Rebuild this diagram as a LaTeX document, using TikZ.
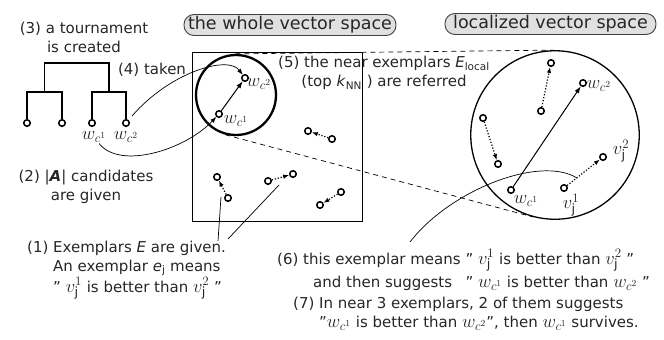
\documentclass[tikz,border=0pt]{standalone}
\usepackage{fix-cm}
\usepackage{fontspec}
\setmainfont{DejaVu Sans}
\usetikzlibrary{arrows.meta}
\newcommand{\qmark}{\char"22\relax}
\newcommand{\mth}[1]{{\fontsize{18.5}{19}\selectfont$#1$}}
\begin{document}
\begin{tikzpicture}[x=1pt,y=-1pt,
  every node/.style={font=\fontsize{15}{19}\selectfont, text=black!85},
  pt/.style={circle,draw,line width=1.5pt,fill=white,inner sep=0pt,minimum size=6.5pt},
  lbl/.style={inner sep=0pt},
  pill/.style={draw=black!75, line width=0.9pt, fill=black!12, rounded corners=10pt,
    minimum height=21pt, inner sep=0pt, font=\fontsize{17.5}{20}\selectfont},
  tree/.style={line width=1.3pt},
  arr/.style={-{Latex[length=7pt,width=5pt]}},
  arrtwo/.style={-{Latex[length=6pt,width=4.5pt]}},
  dotarr/.style={line width=1.2pt, dash pattern=on 1.2pt off 1.8pt, -{Latex[length=6pt,width=4.5pt]}},
  thinline/.style={line width=0.7pt},
  tangentline/.style={line width=0.7pt, dash pattern=on 5pt off 4pt}
]
\useasboundingbox (0,0) rectangle (664,340);

% titles
\node[pill, minimum width=212pt] (pw) at (290,25) {the whole vector space};
\node[pill, minimum width=211pt] (pl) at (550.5,24) {localized vector space};

% big frames
\node[draw, line width=0.9pt, minimum width=170pt, minimum height=169pt, inner sep=0pt] (box) at (277,136.5) {};
\node[circle, draw, line width=2.3pt, minimum size=80pt, inner sep=0pt] (sc) at (236,95) {};
\node[circle, draw, line width=1.3pt, minimum size=168.5pt, inner sep=0pt] (bc) at (555,135) {};
\draw[tangentline] (sc.91) -- (bc.91);
\draw[tangentline] (sc.-105) -- (bc.-105);

% tree
\node[pt] (L1) at (27,123) {};
\node[pt] (L2) at (62,123) {};
\node[pt] (L3) at (92,123) {};
\node[pt] (L4) at (126,123) {};
\coordinate (A) at (44.5,92);
\coordinate (B) at (109,92);
\coordinate (R) at (76.75,63);
\draw[tree] (L1.north) |- (A) -| (L2.north);
\draw[tree] (L3.north) |- (B) -| (L4.north);
\draw[tree] (A) |- (R) -| (B);
\node[lbl] (lw1) at (94,137) {\mth{w_{c^1}}};
\node[lbl] (lw2) at (126,137) {\mth{w_{c^2}}};

% texts left
\node[align=center] (t3) at (84,37) {(3) a tournament\\is created};
\node (t4) at (152,70) {(4) taken};
\node[align=center] (t2) at (86,187) {(2) |\textbf{\textit{A}}| candidates\\are given};

% whole space points
\node[pt] (wa) at (219,114) {};
\node[pt] (wb) at (245,78) {};
\node[lbl] (lwa) at (236,121) {\mth{w_{c^1}}};
\node[lbl] (lwb) at (259,84) {\mth{w_{c^2}}};
\draw[arr, line width=1pt] (wa) -- (wb);

\node[pt] (pa1) at (332,139) {}; \node[pt] (pb1) at (308,131) {};
\node[pt] (pa2) at (228,198) {}; \node[pt] (pb2) at (217,177) {};
\node[pt] (pa3) at (268,181) {}; \node[pt] (pb3) at (293,174) {};
\node[pt] (pa4) at (341,192) {}; \node[pt] (pb4) at (320,205) {};
\draw[dotarr] (pa1) -- (pb1);
\draw[dotarr] (pa2) -- (pb2);
\draw[dotarr] (pa3) -- (pb3);
\draw[dotarr] (pa4) -- (pb4);

% curves from tree
\draw[thinline, arrtwo, shorten <=5pt] (L4) .. controls (170,72) and (228,55) .. (wb);
\draw[thinline, arrtwo, shorten <=1pt] (lw1) .. controls (120,170) and (185,150) .. (wa);

% localized space
\node[pt] (ra) at (511,190) {};
\node[pt] (rb) at (583,83) {};
\node[lbl] (lra) at (526,201) {\mth{w_{c^1}}};
\node[lbl] (lrb) at (599,86) {\mth{w_{c^2}}};
\draw[arr, line width=1pt] (ra) -- (rb);
\node[pt] (qa1) at (541,111) {}; \node[pt] (qb1) at (551,63) {};
\node[pt] (qa2) at (483,118) {}; \node[pt] (qb2) at (498,164) {};
\node[pt] (qa3) at (564,188) {}; \node[pt] (qb3) at (603,157) {};
\draw[dotarr] (qa1) -- (qb1);
\draw[dotarr] (qa2) -- (qb2);
\draw[dotarr] (qa3) -- (qb3);
\node[lbl] (lv1) at (571,205) {\mth{v^1_{\mathrm{j}}}};
\node[lbl] (lv2) at (621,151) {\mth{v^2_{\mathrm{j}}}};

% (5)
\node[align=center] (t5) at (384,73) {(5) the near exemplars \textit{E}\textsubscript{local}\\(top \textit{k}\textsubscript{NN} ) are referred};

% (1)
\node[align=left, anchor=north west, inner sep=0pt] (t1) at (27,240.5) {(1) Exemplars \textit{E} are given.\\\hphantom{(1) }An exemplar \textit{e}\textsubscript{j} means\\\hphantom{(1) }\qmark{} \mth{v^1_{\mathrm{j}}} is better than \mth{v^2_{\mathrm{j}}} \qmark};
\coordinate (s1a) at (218,241);
\coordinate (e1a) at (221,197);
\coordinate (s1b) at (228,239);
\coordinate (e1b) at (279,185);
\draw[thinline] (s1a) -- (e1a);
\draw[thinline] (s1b) -- (e1b);

% (6)
\node[anchor=north west, inner sep=0pt] (t6) at (277,249) {\begin{tabular}{@{}l@{\ }l@{}}(6) this exemplar means & \qmark{} \mth{v^1_{\mathrm{j}}} is better than \mth{v^2_{\mathrm{j}}} \qmark\\[4pt] \hspace*{36pt}and then suggests & \qmark{} \mth{w_{c^1}} is better than \mth{w_{c^2}} \qmark\end{tabular}};
\coordinate (s6) at (410,242);
\coordinate (e6) at (577,178);
\draw[thinline] (s6) .. controls (450,190) and (540,155) .. (e6);

% (7)
\node[align=left, anchor=north west, inner sep=0pt] (t7) at (293,296.5) {(7) In near 3 exemplars, 2 of them suggests\\\hphantom{(7) }\qmark\mth{w_{c^1}} is better than \mth{w_{c^2}}\qmark, then \mth{w_{c^1}} survives.};
\end{tikzpicture}
\end{document}
